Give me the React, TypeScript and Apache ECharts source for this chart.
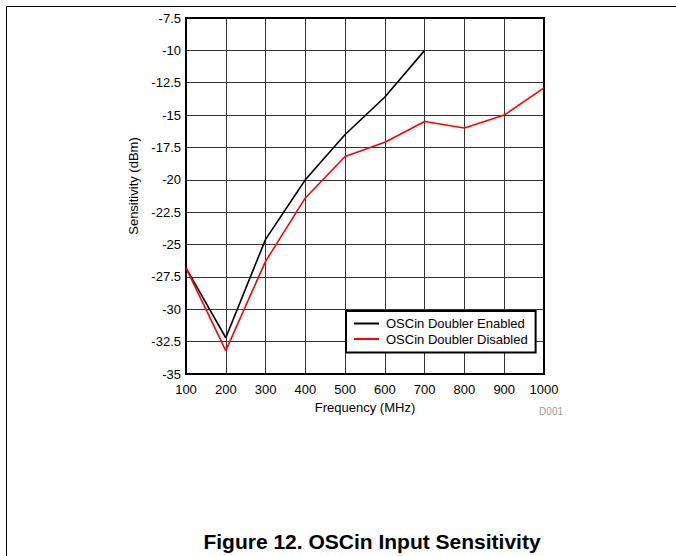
import React, { useEffect, useRef } from "react";
import * as echarts from "echarts";

const frequencies = [100, 200, 300, 400, 500, 600, 700, 800, 900, 1000];
const enabledValues = [-26.8, -32.2, -24.6, -20.0, -16.5, -13.6, -10.0];
const disabledValues = [-26.8, -33.2, -26.3, -21.4, -18.2, -17.1, -15.5, -16.0, -15.0, -12.9];
const seriesNames = ["OSCin Doubler Enabled", "OSCin Doubler Disabled"];
const xAxisTitle = "Frequency (MHz)";
const yAxisTitle = "Sensitivity (dBm)";
const figureTitle = "Figure 12. OSCin Input Sensitivity";
const figureCode = "D001";

const FONT = "'Liberation Sans', Arial, Helvetica, sans-serif";

export default function App() {
  const ref = useRef<HTMLDivElement>(null);
  useEffect(() => {
    if (!ref.current) return;
    const chart = echarts.init(ref.current, null, { renderer: "svg" });
    const enabledData = enabledValues.map((v, i) => [frequencies[i], v]);
    const disabledData = disabledValues.map((v, i) => [frequencies[i], v]);
    chart.setOption({
      animation: false,
      backgroundColor: "#fff",
      textStyle: { fontFamily: FONT },
      grid: {
        left: 186,
        top: 18,
        width: 358,
        height: 356,
        show: true,
        borderColor: "#000",
        borderWidth: 2,
        backgroundColor: "transparent",
        z: 3,
      },
      xAxis: {
        type: "value",
        min: 100,
        max: 1000,
        interval: 100,
        name: xAxisTitle,
        nameLocation: "middle",
        nameGap: 24,
        nameTextStyle: { fontSize: 13, color: "#000", fontFamily: FONT },
        axisLine: { show: false },
        axisTick: { show: false },
        axisLabel: {
          fontSize: 13,
          color: "#000",
          margin: 9,
          fontFamily: FONT,
          formatter: (v: number) => String(v),
        },
        splitLine: { show: true, lineStyle: { color: "#333", width: 1 } },
      },
      yAxis: {
        type: "value",
        min: -35,
        max: -7.5,
        interval: 2.5,
        axisLine: { show: false },
        axisTick: { show: false },
        axisLabel: {
          fontSize: 13,
          color: "#000",
          margin: 5,
          fontFamily: FONT,
          formatter: (v: number) => String(v),
        },
        splitLine: { show: true, lineStyle: { color: "#333", width: 1 } },
      },
      legend: {
        data: seriesNames,
        left: 346,
        top: 311,
        orient: "vertical",
        backgroundColor: "#fff",
        borderColor: "#000",
        borderWidth: 2,
        borderRadius: 0,
        padding: [6, 8, 7, 7],
        itemWidth: 25,
        itemHeight: 14,
        itemGap: 2.5,
        itemStyle: { opacity: 0 },
        textStyle: { fontSize: 13, color: "#000", fontFamily: FONT, padding: [0, 0, 0, 2] },
        z: 10,
      },
      series: [
        {
          name: seriesNames[0],
          type: "line",
          data: enabledData,
          symbol: "none",
          lineStyle: { color: "#000", width: 1.6 },
          itemStyle: { color: "#000" },
          z: 5,
        },
        {
          name: seriesNames[1],
          type: "line",
          data: disabledData,
          symbol: "none",
          lineStyle: { color: "#ff0000", width: 1.6 },
          itemStyle: { color: "#ff0000" },
          z: 5,
        },
      ],
      graphic: [
        {
          type: "line",
          shape: { x1: 6.5, y1: 6.5, x2: 676, y2: 6.5 },
          style: { stroke: "#000", lineWidth: 1 },
        },
        {
          type: "line",
          shape: { x1: 6.5, y1: 6.5, x2: 6.5, y2: 556 },
          style: { stroke: "#000", lineWidth: 1 },
        },
        {
          type: "text",
          x: 133,
          y: 186,
          rotation: Math.PI / 2,
          style: {
            text: yAxisTitle,
            fontSize: 13,
            fill: "#000",
            fontFamily: FONT,
            align: "center",
            verticalAlign: "middle",
          },
        },
        {
          type: "text",
          x: 563,
          y: 411,
          style: {
            text: figureCode,
            fontSize: 10,
            fill: "#999",
            fontFamily: FONT,
            align: "right",
            verticalAlign: "middle",
          },
        },
        {
          type: "text",
          x: 372,
          y: 541,
          style: {
            text: figureTitle,
            fontSize: 21,
            fontWeight: "bold",
            fill: "#000",
            fontFamily: FONT,
            align: "center",
            verticalAlign: "middle",
          },
        },
      ],
    });
    return () => chart.dispose();
  }, []);
  return (
    <div
      ref={ref}
      style={{ position: "absolute", left: 0, top: 0, width: 676, height: 556 }}
    />
  );
}
